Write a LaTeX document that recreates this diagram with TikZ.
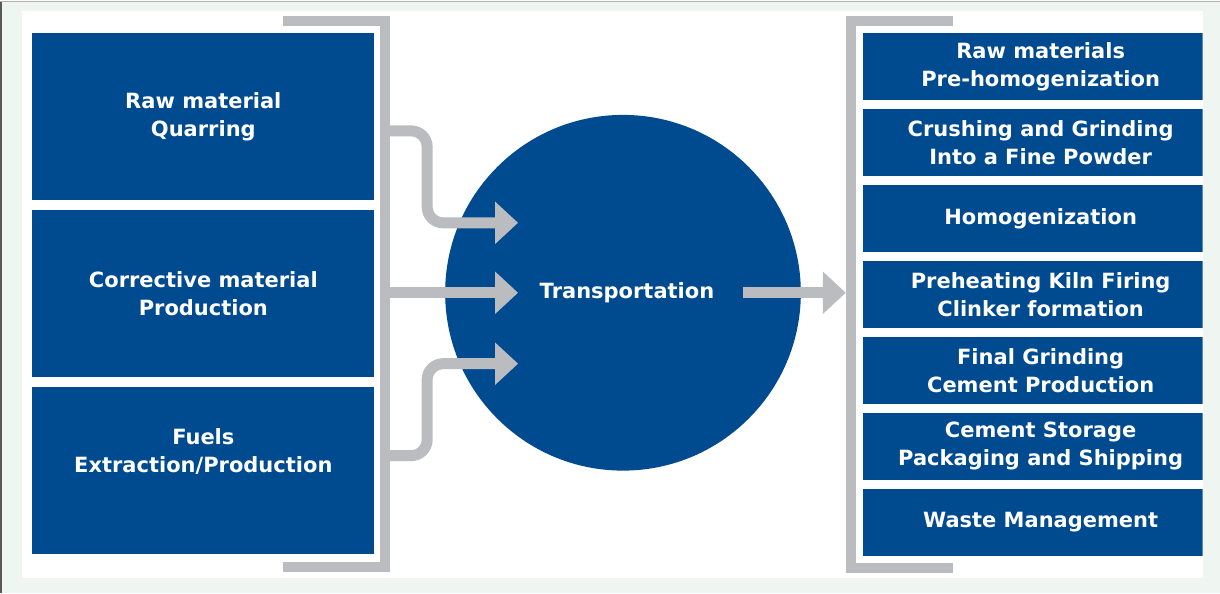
\documentclass[tikz,border=0pt]{standalone}
\usepackage{fontspec}
\setmainfont{DejaVu Sans}
\usepackage{xcolor}
\usetikzlibrary{arrows.meta}

\definecolor{cblue}{RGB}{0,74,143}
\definecolor{cgray}{RGB}{187,188,192}
\definecolor{cback}{RGB}{239,245,240}

\tikzset{
  lbox/.style={fill=cblue, minimum width=342pt, minimum height=167pt, inner sep=0pt},
  rbox/.style={fill=cblue, minimum width=356pt, minimum height=67pt, inner sep=0pt},
  txt/.style={text=white, font=\bfseries\fontsize{21}{28}\selectfont, align=center},
  bracket/.style={draw=cgray, line width=10pt},
  arr/.style={draw=cgray, line width=11pt, rounded corners=16pt,
    -{Triangle[length=23pt,width=41pt]}},
}

\begin{document}
\begin{tikzpicture}[x=1pt,y=-1pt]
    % Frame
    \fill[cback] (0,0) rectangle (1220,592);
    \fill[white] (22,10) rectangle (1203,577);
    \draw[black!65, line width=2pt] (1,0) -- (1,592);
    \draw[black!30, line width=1pt] (0,0.5) -- (1220,0.5);
    
    % Left boxes
    \node[lbox, txt] (quarry) at (203,115.5) {Raw material\\Quarring};
    \node[lbox, txt] (corrective) at (203,293) {Corrective material\\Production};
    \node[lbox] (fuel) at (203,470) {};
    \node[txt] (fueltxt) at ([yshift=19pt]fuel.center) {Fuels\\Extraction/Production};
    
    % Left bracket
    \draw[bracket] (283,20.5) -- (385,20.5) -- (385,566.5) -- (283,566.5);
    
    % Circle
    \node[circle, fill=cblue, minimum size=356pt, inner sep=0pt] (transp) at (623,292) {};
    \node[txt] (transptxt) at (627,292) {Transportation};
    
    % Arrows into the circle
    \coordinate (in1) at (390,130);
    \coordinate (in2) at (390,292);
    \coordinate (in3) at (390,455);
    \coordinate (tip1) at (518,222);
    \coordinate (tip2) at (518,292);
    \coordinate (tip3) at (518,363);
    \draw[arr] (in1) -| (427,176) |- (tip1);
    \draw[arr] (in2) -- (tip2);
    \draw[arr] (in3) -| (427,409) |- (tip3);
    
    % Arrow out of the circle
    \coordinate (out) at (743,292);
    \coordinate (outtip) at (846,292);
    \draw[arr] (out) -- (outtip);
    
    % Right bracket
    \draw[bracket] (953,20.5) -- (851.5,20.5) -- (851.5,567.5) -- (953,567.5);
    
    % Right boxes
    \begin{scope}
      \clip (22,10) rectangle (1203,577);
      \node[rbox, txt] (prehomo) at (1041,65.5) {Raw materials\\Pre-homogenization};
      \node[rbox, txt] (crush) at (1041,141.5) {Crushing and Grinding\\Into a Fine Powder};
      \node[rbox, txt] (homo) at (1041,217.5) {Homogenization};
      \node[rbox, txt] (kiln) at (1041,293.5) {Preheating Kiln Firing\\Clinker formation};
      \node[rbox, txt] (grind) at (1041,369.5) {Final Grinding\\Cement Production};
      \node[rbox, txt] (storage) at (1041,445.5) {Cement Storage\\Packaging and Shipping};
      \node[rbox, txt] (waste) at (1041,521.5) {Waste Management};
    \end{scope}
\end{tikzpicture}
\end{document}
